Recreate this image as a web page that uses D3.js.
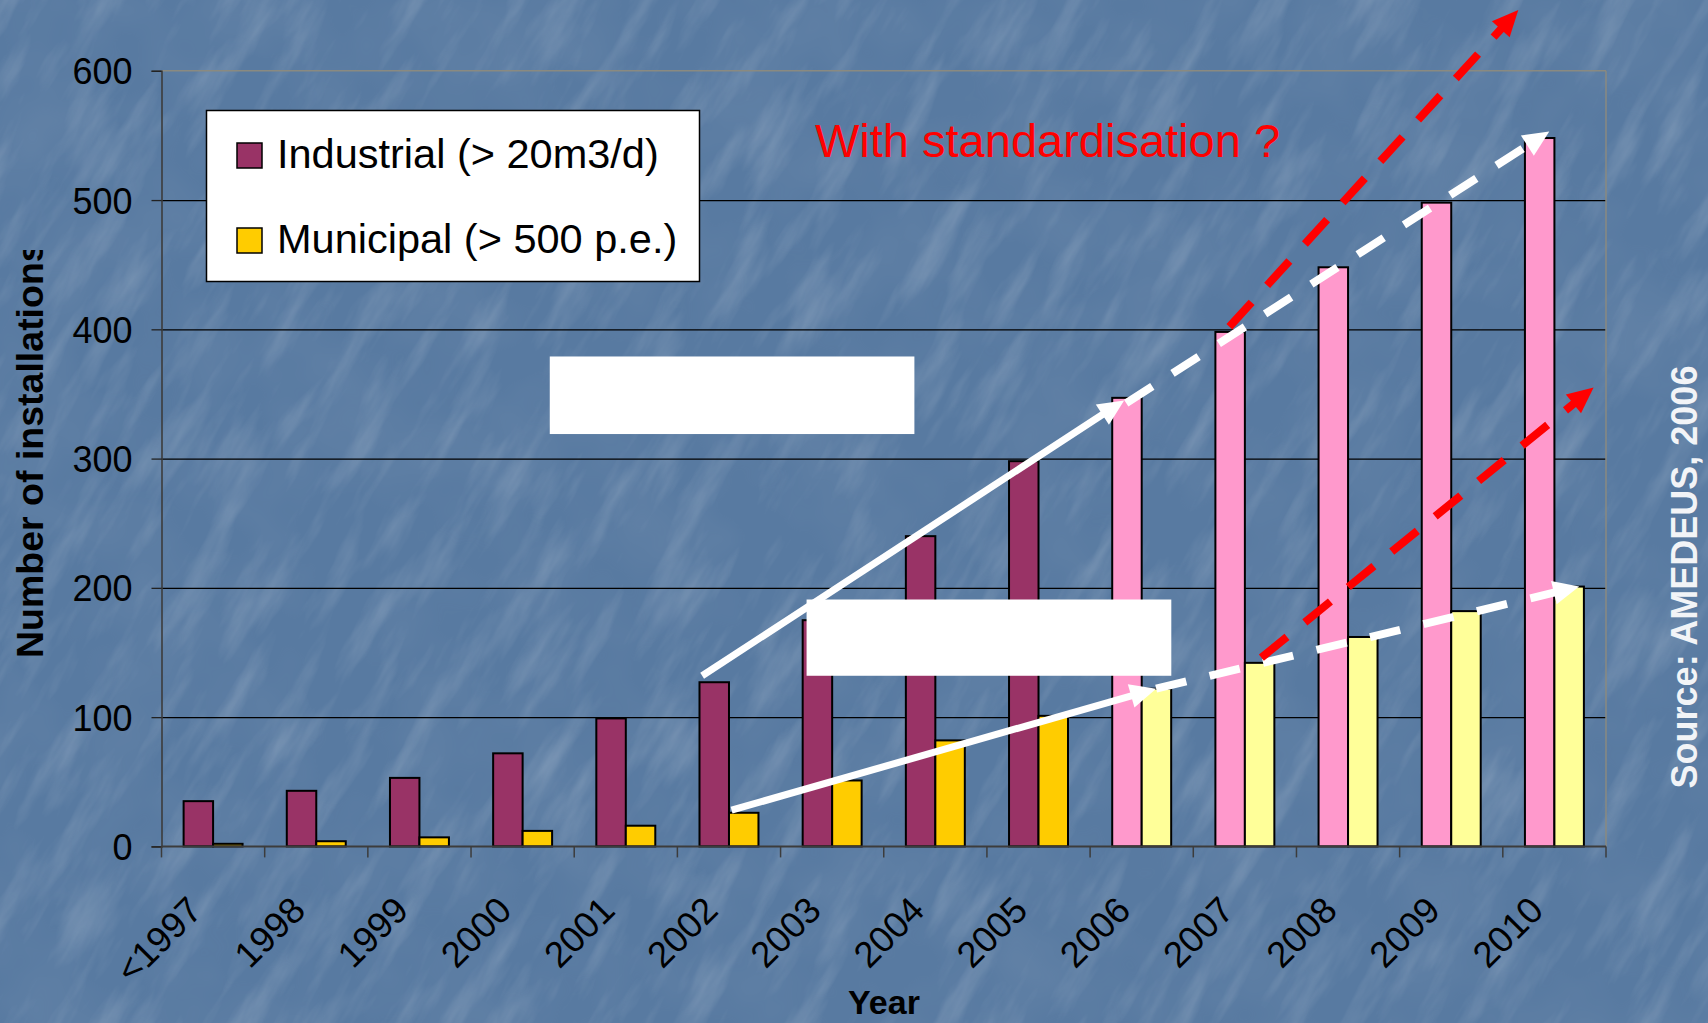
<!DOCTYPE html>
<html>
<head>
<meta charset="utf-8">
<script src="https://cdn.jsdelivr.net/npm/d3@7"></script>
<style>
  html, body { margin: 0; padding: 0; background: #5879a0; overflow: hidden; }
  svg { display: block; font-family: "Liberation Sans", Arial, sans-serif; }
</style>
</head>
<body>
<svg id="chart" width="1708" height="1023"></svg>
<script>
// ---- data ----
const categories = ["<1997", "1998", "1999", "2000", "2001", "2002", "2003",
                    "2004", "2005", "2006", "2007", "2008", "2009", "2010"];
const industrial = [35, 43, 53, 72, 99, 127, 175, 240, 298, 347, 398, 448, 498, 548];
const municipal  = [2, 4, 7, 12, 16, 26, 51, 82, 101, 122, 142, 162, 182, 201];
const firstForecast = "2006";          // bars from this year on are projections
const yTicks = [0, 100, 200, 300, 400, 500, 600];

const seriesNames = ["Industrial (> 20m3/d)", "Municipal (> 500 p.e.)"];
const colours = {
  industrial: "#993366", municipal: "#FFCC00",
  industrialForecast: "#FF99CC", municipalForecast: "#FFFF99"
};

// Trend arrows, in (category position, value) space
const trendArrows = [
  { from: [5.24, 132], to: [9.33, 345], colour: "#ffffff", dash: null, width: 7 },
  { from: [9.35, 343], to: [13.45, 553], colour: "#ffffff", dash: "31 24", width: 8 },
  { from: [5.525, 28], to: [9.64, 122], colour: "#ffffff", dash: null, width: 7 },
  { from: [9.64, 122], to: [13.74, 201], colour: "#ffffff", dash: "31 24", width: 8 },
  { from: [10.35, 402], to: [13.15, 647], colour: "#ff0000", dash: "33 23", width: 8 },
  { from: [10.66, 146], to: [13.88, 355], colour: "#ff0000", dash: "33 23", width: 8 }
];
// Blank label panels, in (category position, value) space
const blankPanels = [
  { x0: 3.763, x1: 7.297, v0: 379, v1: 319 },
  { x0: 6.252, x1: 9.787, v0: 191, v1: 132 }
];

// ---- layout ----
const W = 1708, H = 1023;
const plot = { left: 161.5, right: 1606, top: 70.8, bottom: 846.4 };

const svg = d3.select("#chart");
const defs = svg.append("defs");

// marbled blue backdrop: faint diagonal scratches over soft mottling
const marble = defs.append("filter").attr("id", "marble")
  .attr("x", 0).attr("y", 0).attr("width", "100%").attr("height", "100%");
marble.append("feTurbulence").attr("type", "fractalNoise")
  .attr("baseFrequency", "0.009 0.04").attr("numOctaves", 4).attr("seed", 11);
marble.append("feColorMatrix").attr("type", "matrix")
  .attr("values", "0 0 0 0 1  0 0 0 0 1  0 0 0 0 1  0 0 0 2.2 -1.05");

const mottle = defs.append("filter").attr("id", "mottle")
  .attr("x", 0).attr("y", 0).attr("width", "100%").attr("height", "100%");
mottle.append("feTurbulence").attr("type", "fractalNoise")
  .attr("baseFrequency", "0.01").attr("numOctaves", 3).attr("seed", 3);
mottle.append("feColorMatrix").attr("type", "matrix")
  .attr("values", "0 0 0 0 0.25  0 0 0 0 0.35  0 0 0 0 0.5  0 0 0 1.2 -0.45");

svg.append("rect").attr("width", W).attr("height", H).attr("fill", "#587aa1");
svg.append("rect").attr("width", W).attr("height", H)
  .attr("filter", "url(#mottle)").attr("opacity", 0.3);
svg.append("g").attr("transform", `translate(${W / 2},${H / 2}) rotate(-60)`)
  .append("rect").attr("x", -1500).attr("y", -1500).attr("width", 3000).attr("height", 3000)
  .attr("filter", "url(#marble)").attr("opacity", 0.16);

// ---- scales ----
const x = d3.scaleBand().domain(categories).range([plot.left, plot.right]);
const inner = d3.scaleBand().domain(["industrial", "municipal"])
  .range([0, x.bandwidth()]).paddingInner(0).paddingOuter(0.75);
const y = d3.scaleLinear().domain([0, 600]).range([plot.bottom, plot.top]);
const xPos = d3.scaleLinear().domain([0, categories.length]).range([plot.left, plot.right]);

// ---- gridlines & frame ----
const grid = svg.append("g").attr("transform", `translate(${plot.left},0)`)
  .call(d3.axisLeft(y).tickValues(yTicks.filter(v => v > 0 && v < 600))
    .tickSize(-(plot.right - plot.left)).tickFormat(""));
grid.select(".domain").remove();
grid.selectAll("line").attr("stroke", "#000").attr("stroke-width", 1.3);

svg.append("line").attr("x1", plot.left).attr("x2", plot.right)
  .attr("y1", y(600)).attr("y2", y(600)).attr("stroke", "#8a8a80").attr("stroke-width", 1.5);
svg.append("line").attr("x1", plot.right).attr("x2", plot.right)
  .attr("y1", y(600)).attr("y2", y(0)).attr("stroke", "#8a8a80").attr("stroke-width", 1.5);

// ---- bars ----
const fc = categories.indexOf(firstForecast);
const groups = svg.append("g").selectAll("g").data(categories).join("g")
  .attr("transform", d => `translate(${x(d)},0)`);
groups.append("rect")
  .attr("x", inner("industrial")).attr("width", inner.bandwidth())
  .attr("y", (d, i) => y(industrial[i])).attr("height", (d, i) => y(0) - y(industrial[i]))
  .attr("fill", (d, i) => i >= fc ? colours.industrialForecast : colours.industrial)
  .attr("stroke", "#000").attr("stroke-width", 2);
groups.append("rect")
  .attr("x", inner("municipal")).attr("width", inner.bandwidth())
  .attr("y", (d, i) => y(municipal[i])).attr("height", (d, i) => y(0) - y(municipal[i]))
  .attr("fill", (d, i) => i >= fc ? colours.municipalForecast : colours.municipal)
  .attr("stroke", "#000").attr("stroke-width", 2);

// ---- axes ----
const yAxis = svg.append("g").attr("transform", `translate(${plot.left},0)`)
  .call(d3.axisLeft(y).tickValues(yTicks).tickSize(10).tickPadding(19));
yAxis.select(".domain").attr("stroke", "#3c3c3c").attr("stroke-width", 1.6);
yAxis.selectAll("line").attr("stroke", "#222").attr("stroke-width", 1.3);
yAxis.selectAll("text").attr("font-size", 36).attr("fill", "#000")
  .attr("font-family", "Liberation Sans, Arial, sans-serif").attr("dy", "0.36em");

// x axis: ticks on category boundaries
const bounds = categories.map(c => x(c)).concat([plot.right]);
svg.append("line").attr("x1", plot.left).attr("x2", plot.right)
  .attr("y1", y(0)).attr("y2", y(0)).attr("stroke", "#3c3c3c").attr("stroke-width", 2);
svg.append("g").selectAll("line").data(bounds).join("line")
  .attr("x1", d => d).attr("x2", d => d)
  .attr("y1", y(0)).attr("y2", y(0) + 11)
  .attr("stroke", "#3c3c3c").attr("stroke-width", 1.5);

svg.append("g").selectAll("text").data(categories).join("text")
  .attr("transform", d => `translate(${x(d) + x.bandwidth() / 2 - 9},${y(0) + 66}) rotate(-45)`)
  .attr("text-anchor", "end").attr("font-size", 36.5).attr("fill", "#000")
  .text(d => d);

// axis titles
defs.append("clipPath").attr("id", "titleClip")
  .append("rect").attr("x", 0).attr("y", 250).attr("width", 80).attr("height", 600);
svg.append("g").attr("clip-path", "url(#titleClip)")
  .append("text")
  .attr("transform", "translate(43,658) rotate(-90)")
  .attr("font-size", 37.5).attr("font-weight", "bold").attr("fill", "#000")
  .text("Number of installations");

svg.append("text").attr("x", 884).attr("y", 1014)
  .attr("text-anchor", "middle").attr("font-size", 34).attr("font-weight", "bold")
  .attr("fill", "#000").text("Year");

// ---- legend ----
const legend = svg.append("g");
legend.append("rect").attr("x", 206.5).attr("y", 110.5).attr("width", 493).attr("height", 171)
  .attr("fill", "#fff").attr("stroke", "#000").attr("stroke-width", 1.5);
const legendRows = [
  { name: seriesNames[0], colour: colours.industrial, base: 167.5 },
  { name: seriesNames[1], colour: colours.municipal, base: 252.5 }
];
legendRows.forEach(r => {
  legend.append("rect").attr("x", 237).attr("y", r.base - 24.5).attr("width", 25).attr("height", 25)
    .attr("fill", r.colour).attr("stroke", "#000").attr("stroke-width", 1.5);
  legend.append("text").attr("x", 277).attr("y", r.base)
    .attr("font-size", 41.5).attr("fill", "#000").text(r.name);
});

// ---- annotations ----
svg.append("g").selectAll("rect").data(blankPanels).join("rect")
  .attr("x", d => xPos(d.x0)).attr("width", d => xPos(d.x1) - xPos(d.x0))
  .attr("y", d => y(d.v0)).attr("height", d => y(d.v1) - y(d.v0))
  .attr("fill", "#fff");

const arrows = svg.append("g");
const headLen = 26, headHalf = 12;
trendArrows.forEach(a => {
  const x0 = xPos(a.from[0]), y0 = y(a.from[1]);
  const x1 = xPos(a.to[0]), y1 = y(a.to[1]);
  const len = Math.hypot(x1 - x0, y1 - y0);
  const ux = (x1 - x0) / len, uy = (y1 - y0) / len;
  const bx = x1 - ux * headLen, by = y1 - uy * headLen;
  arrows.append("line")
    .attr("x1", x0).attr("y1", y0).attr("x2", bx + ux * 2).attr("y2", by + uy * 2)
    .attr("stroke", a.colour).attr("stroke-width", a.width)
    .attr("stroke-dasharray", a.dash);
  arrows.append("path")
    .attr("d", `M${x1},${y1}L${bx - uy * headHalf},${by + ux * headHalf}L${bx + uy * headHalf},${by - ux * headHalf}Z`)
    .attr("fill", a.colour);
});

svg.append("text").attr("x", 815).attr("y", 157)
  .attr("font-size", 47).attr("fill", "#ff0000").text("With standardisation ?");

svg.append("text")
  .attr("transform", "translate(1697,577) rotate(-90)")
  .attr("text-anchor", "middle").attr("font-size", 36).attr("font-weight", "bold")
  .attr("fill", "#f2f4f7").text("Source: AMEDEUS, 2006");
</script>
</body>
</html>
